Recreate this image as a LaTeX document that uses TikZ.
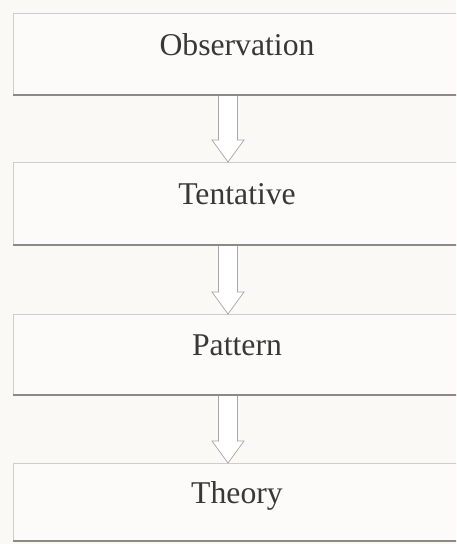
\documentclass[tikz,border=0pt]{standalone}
\usepackage{fontspec}
\setmainfont{Liberation Serif}
\usetikzlibrary{calc}

\definecolor{paper}{HTML}{FAF9F6}
\definecolor{boxfill}{HTML}{FCFBF9}
\definecolor{edge}{HTML}{CFCDC9}
\definecolor{rule}{HTML}{8C8A87}
\definecolor{ink}{HTML}{383838}

\begin{document}
\begin{tikzpicture}[x=1pt, y=-1pt,
  stage/.style={draw=edge, line width=0.8pt, fill=boxfill, anchor=north west,
    inner sep=0pt, outer sep=0pt, minimum width=448pt, text=ink,
    font=\fontsize{31.7}{38}\selectfont, text height=15.6pt, text depth=12.8pt},
  shadow/.style={rule, line width=2.6pt},
  hollow/.style={draw=black!35, line width=0.7pt, fill=white, line join=miter}]
  \clip (0,0) rectangle (456,544);
  \fill[paper] (0,0) rectangle (456,544);
  % x position of the arrows
  \coordinate (ax) at (228,0);

  \node[stage, minimum height=82pt] (obs)  at (13,13)  {Observation};
  \node[stage, minimum height=83pt] (tent) at (13,162) {Tentative};
  \node[stage, minimum height=81pt] (patt) at (13,314) {Pattern};
  \node[stage, minimum height=78pt] (theo) at (13,463) {Theory};

  % hollow down arrows
  \draw[hollow] ($(obs.south -| ax)+(-9.5,0)$) -- ($(tent.north -| ax)+(-9.5,-22)$)
    -- ++(-6.5,0) -- (tent.north -| ax) -- ++(16,-22) -- ++(-6.5,0)
    -- ($(obs.south -| ax)+(9.5,0)$);
  \draw[hollow] ($(tent.south -| ax)+(-9.5,0)$) -- ($(patt.north -| ax)+(-9.5,-22)$)
    -- ++(-6.5,0) -- (patt.north -| ax) -- ++(16,-22) -- ++(-6.5,0)
    -- ($(tent.south -| ax)+(9.5,0)$);
  \draw[hollow] ($(patt.south -| ax)+(-9.5,0)$) -- ($(theo.north -| ax)+(-9.5,-22)$)
    -- ++(-6.5,0) -- (theo.north -| ax) -- ++(16,-22) -- ++(-6.5,0)
    -- ($(patt.south -| ax)+(9.5,0)$);

  % heavy bottom edges
  \draw[shadow] (obs.south west) -- (obs.south east);
  \draw[shadow] (tent.south west) -- (tent.south east);
  \draw[shadow] (patt.south west) -- (patt.south east);
  \draw[shadow] (theo.south west) -- (theo.south east);
\end{tikzpicture}
\end{document}
